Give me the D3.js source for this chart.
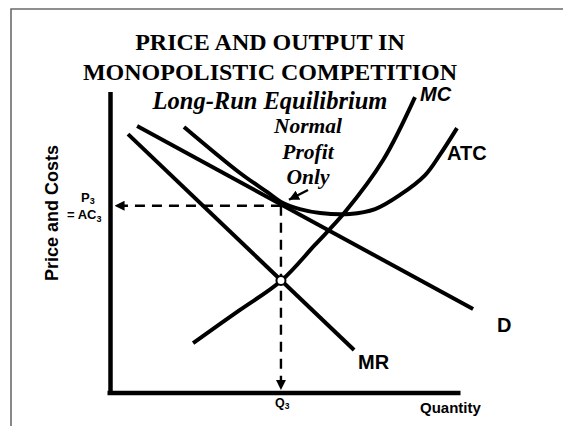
<!DOCTYPE html>
<html>
<head>
<meta charset="utf-8">
<script src="https://cdnjs.cloudflare.com/ajax/libs/d3/7.8.5/d3.min.js"></script>
<style>
  body { margin: 0; background: #fff; }
  svg { display: block; }
  .serif { font-family: "Liberation Serif", "Times New Roman", serif; font-weight: bold; }
  .sans { font-family: "Liberation Sans", Arial, sans-serif; font-weight: bold; }
</style>
</head>
<body>
<script>
// quantity / price points (axis units 0..10)
const demand = [[0.76, 8.87], [10.36, 2.79]];
const marginalRevenue = [[0.50, 8.60], [6.96, 1.43]];
const marginalCost = [[2.36, 1.66], [3.70, 2.76], [4.87, 3.72], [5.84, 4.92], [6.70, 6.01], [7.79, 7.74], [8.70, 9.83]];
const averageCost = [[2.10, 8.84], [3.70, 7.31], [4.47, 6.68], [4.93, 6.31], [5.41, 6.11], [5.99, 5.98],
  [6.84, 5.95], [7.56, 6.11], [8.27, 6.58], [8.99, 7.24], [9.41, 7.91], [9.90, 8.80]];
const equilibrium = { q: 4.87, p: 6.22 };
const mrEqualsMc = { q: 4.87, p: 3.74 };

const titleLines = ['PRICE AND OUTPUT IN', 'MONOPOLISTIC COMPETITION'];
const noteLines = ['Normal', 'Profit', 'Only'];

const width = 563;
const height = 426;

const svg = d3.select('body')
  .append('svg')
    .attr('width', width)
    .attr('height', height);

// frame (only top and left edges show)
svg.append('path')
  .attr('d', `M11,${height} L11,9 L${width},9`)
  .attr('fill', 'none')
  .attr('stroke', '#6b6b6b')
  .attr('stroke-width', 1.6);

const xScale = d3.scaleLinear().domain([0, 10]).range([110.5, 460.5]);
const yScale = d3.scaleLinear().domain([0, 10]).range([393, 92]);

const defs = svg.append('defs');
defs.append('marker')
  .attr('id', 'head')
  .attr('viewBox', '0 0 10 10')
  .attr('refX', 10)
  .attr('refY', 5)
  .attr('markerWidth', 4.2)
  .attr('markerHeight', 4.2)
  .attr('markerUnits', 'strokeWidth')
  .attr('orient', 'auto')
  .append('path')
    .attr('d', 'M0,0 L10,5 L0,10 z')
    .attr('fill', '#000');

// axes without ticks
const xAxisG = svg.append('g')
  .attr('transform', `translate(0, ${yScale(0)})`)
  .call(d3.axisBottom(xScale).tickValues([]).tickSizeOuter(0));
const yAxisG = svg.append('g')
  .attr('transform', `translate(${xScale(0)}, 0)`)
  .call(d3.axisLeft(yScale).tickValues([]).tickSizeOuter(0));
xAxisG.select('.domain').attr('stroke', '#000').attr('stroke-width', 4.5)
  .attr('d', `M${xScale(0) - 3},0H${xScale(10)}`);
yAxisG.select('.domain').attr('stroke', '#000').attr('stroke-width', 4.5)
  .attr('d', `M0,${yScale(10)}V${yScale(0) + 2}`);

// dashed guides
svg.append('line')
  .attr('x1', xScale(equilibrium.q))
  .attr('y1', yScale(equilibrium.p))
  .attr('x2', xScale(0) + 4)
  .attr('y2', yScale(equilibrium.p))
  .attr('stroke', '#000')
  .attr('stroke-width', 2.4)
  .attr('stroke-dasharray', '10,7')
  .attr('marker-end', 'url(#head)');

svg.append('line')
  .attr('x1', xScale(equilibrium.q))
  .attr('y1', yScale(equilibrium.p))
  .attr('x2', xScale(equilibrium.q))
  .attr('y2', yScale(0) - 3)
  .attr('stroke', '#000')
  .attr('stroke-width', 2.4)
  .attr('stroke-dasharray', '10,7')
  .attr('marker-end', 'url(#head)');

const line = d3.line()
  .x(d => xScale(d[0]))
  .y(d => yScale(d[1]));

const curves = [
  { name: 'D', pts: demand, curve: d3.curveLinear },
  { name: 'MR', pts: marginalRevenue, curve: d3.curveLinear },
  { name: 'ATC', pts: averageCost, curve: d3.curveCatmullRom },
  { name: 'MC', pts: marginalCost, curve: d3.curveCatmullRom }
];

svg.append('g').selectAll('path')
  .data(curves)
  .join('path')
    .attr('d', d => line.curve(d.curve)(d.pts))
    .attr('fill', 'none')
    .attr('stroke', '#000')
    .attr('stroke-width', 4)
    .attr('stroke-linecap', 'butt');

svg.append('circle')
  .attr('cx', xScale(mrEqualsMc.q))
  .attr('cy', yScale(mrEqualsMc.p))
  .attr('r', 4.5)
  .attr('fill', '#fff')
  .attr('stroke', '#000')
  .attr('stroke-width', 2);

// title
svg.append('g').selectAll('text')
  .data(titleLines)
  .join('text')
    .attr('class', 'serif')
    .attr('x', 270)
    .attr('y', (d, i) => 50 + i * 30)
    .attr('text-anchor', 'middle')
    .attr('font-size', 24)
    .text(d => d);

svg.append('text')
  .attr('class', 'serif')
  .attr('x', 270)
  .attr('y', 109)
  .attr('text-anchor', 'middle')
  .attr('font-size', 24.5)
  .attr('font-style', 'italic')
  .text('Long-Run Equilibrium');

svg.append('g').selectAll('text')
  .data(noteLines)
  .join('text')
    .attr('class', 'serif')
    .attr('x', 308)
    .attr('y', (d, i) => 133 + i * 25.5)
    .attr('text-anchor', 'middle')
    .attr('font-size', 21.5)
    .attr('font-style', 'italic')
    .text(d => d);

// pointer from note to tangency
svg.append('line')
  .attr('x1', 308)
  .attr('y1', 190)
  .attr('x2', xScale(equilibrium.q) + 8)
  .attr('y2', yScale(equilibrium.p) - 6)
  .attr('stroke', '#000')
  .attr('stroke-width', 2.4)
  .attr('marker-end', 'url(#head)');

// curve labels
svg.append('text').attr('class', 'sans').attr('x', 420).attr('y', 101)
  .attr('font-size', 20).attr('font-style', 'italic').text('MC');
svg.append('text').attr('class', 'sans').attr('x', 447).attr('y', 160)
  .attr('font-size', 20).text('ATC');
svg.append('text').attr('class', 'sans').attr('x', 497).attr('y', 332)
  .attr('font-size', 20).text('D');
svg.append('text').attr('class', 'sans').attr('x', 358).attr('y', 369)
  .attr('font-size', 20).text('MR');

// axis titles
svg.append('text').attr('class', 'sans').attr('x', 420).attr('y', 413)
  .attr('font-size', 15).text('Quantity');

svg.append('text').attr('class', 'sans')
  .attr('transform', 'translate(58, 213) rotate(-90)')
  .attr('text-anchor', 'middle')
  .attr('font-size', 18)
  .text('Price and Costs');

const q3 = svg.append('text').attr('class', 'sans')
  .attr('x', xScale(equilibrium.q) - 6).attr('y', 407)
  .attr('font-size', 12.5);
q3.append('tspan').text('Q');
q3.append('tspan').attr('font-size', 8.5).attr('dy', 2).text('3');

const p3 = svg.append('text').attr('class', 'sans')
  .attr('x', 81).attr('y', 202)
  .attr('font-size', 13);
p3.append('tspan').text('P');
p3.append('tspan').attr('font-size', 9).attr('dy', 1.5).text('3');

const ac3 = svg.append('text').attr('class', 'sans')
  .attr('x', 67).attr('y', 219)
  .attr('font-size', 13);
ac3.append('tspan').text('= AC');
ac3.append('tspan').attr('font-size', 9).attr('dy', 3).text('3');
</script>
</body>
</html>
